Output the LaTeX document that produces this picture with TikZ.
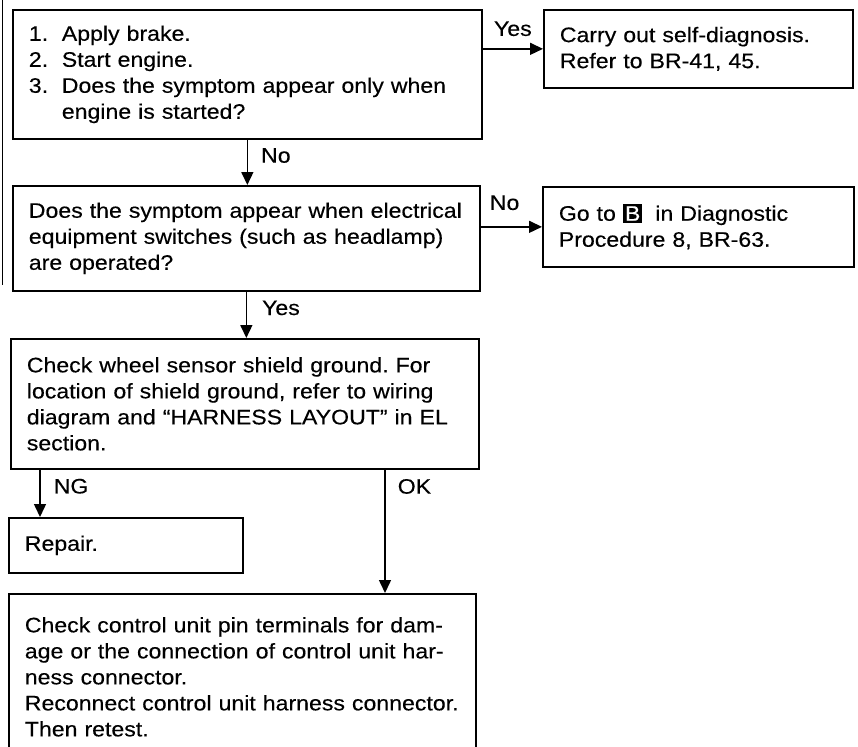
\documentclass[tikz,border=0pt]{standalone}
\usepackage{fontspec}
\setmainfont{Liberation Sans}[FakeStretch=1.1, FakeBold=0.3]
\usetikzlibrary{arrows.meta, positioning}
\frenchspacing
\newcommand{\flowfont}{\fontsize{21pt}{26pt}\selectfont}
\newcommand{\blk}[1]{{\setlength{\fboxsep}{2pt}\colorbox{black}{\textcolor{white}{#1}}}}

\begin{document}
\begin{tikzpicture}[x=1pt, y=-1pt,
  box/.style={draw, line width=1.7pt, anchor=north west, align=left, inner xsep=16pt, inner ysep=0pt, font=\flowfont},
  arr/.style={line width=1.5pt, -{Triangle[length=13pt,width=12pt]}},
  lbl/.style={font=\flowfont, inner sep=2pt}]
  \useasboundingbox (0,0) rectangle (858,746);
  \clip (0,0) rectangle (858,746);
  \draw[line width=1.4pt] (2.5,0) -- (2.5,285);
  \node[box, text width=437pt, minimum height=129pt] (q1) at (12,9) {\makebox[33pt][l]{1.}Apply brake.\\ \makebox[33pt][l]{2.}Start engine.\\ \makebox[33pt][l]{3.}Does the symptom appear only when\\ \hspace*{33pt}engine is started?};
  \node[box, text width=277pt, minimum height=78pt] (s1) at (543,9) {Carry out self-diagnosis.\\ Refer to BR-41, 45.};
  \node[box, text width=435pt, minimum height=105pt] (q3) at (12,185) {Does the symptom appear when electrical\\ equipment switches (such as headlamp)\\ are operated?};
  \node[box, text width=279pt, minimum height=80pt] (s3) at (542,186) {Go to \blk{B}\hspace{6pt} in Diagnostic\\ Procedure 8, BR-63.};
  \node[box, text width=436pt, minimum height=130pt] (q5) at (10,338) {Check wheel sensor shield ground. For\\ location of shield ground, refer to wiring\\ diagram and ``HARNESS LAYOUT'' in EL\\ section.};
  \node[box, text width=202pt, minimum height=55pt] (rep) at (8,517) {Repair.};
  \node[box, text width=435pt, minimum height=166pt] (fin) at (8,593) {Check control unit pin terminals for dam-\\ age or the connection of control unit har-\\ ness connector.\\ Reconnect control unit harness connector.\\ Then retest.};
  \draw[arr] (s1.west -| q1.east) -- node[lbl, above=10pt]{Yes} (s1.west);
  \draw[arr] (q1.south) -- node[lbl, right=11pt, pos=0.35]{No} (q1.south |- q3.north);
  \draw[arr] (s3.west -| q3.east) -- node[lbl, above=14pt, pos=0.39]{No} (s3.west);
  \draw[arr] (q3.south) -- node[lbl, right=13pt, pos=0.35]{Yes} (q3.south |- q5.north);
  \coordinate (ng) at ([xshift=30pt]q5.south west);
  \coordinate (ok) at ([xshift=375pt]q5.south west);
  \draw[arr] (ng) -- node[lbl, right=11pt, pos=0.35]{NG} (ng |- rep.north);
  \draw[arr] (ok) -- node[lbl, right=10pt, pos=0.136]{OK} (ok |- fin.north);
\end{tikzpicture}
\end{document}
